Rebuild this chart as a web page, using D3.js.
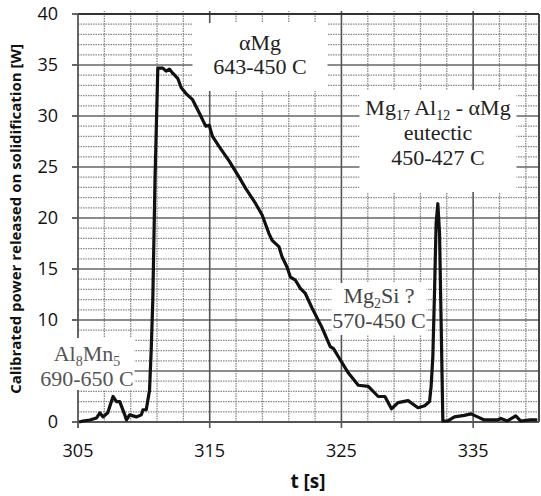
<!DOCTYPE html>
<html>
<head>
<meta charset="utf-8">
<script src="https://cdn.jsdelivr.net/npm/d3@7"></script>
<style>
  body { margin: 0; background: #fff; }
  svg { display: block; }
  .tick-label { font-family: "Open Sans", sans-serif; font-size: 18px; fill: #111; }
  .title { font-family: "Open Sans", sans-serif; font-weight: bold; fill: #111; }
  .note { font-family: "Liberation Serif", serif; font-size: 22px; fill: #333; }
</style>
</head>
<body>
<svg id="chart" width="541" height="496"></svg>
<script>
// time [s] and calibrated power [W]
const times = [305.08, 305.38, 305.9, 306.41, 306.66, 306.89, 307.26, 307.66, 307.92, 308.17,
  308.55, 308.68, 308.92, 309.43, 309.81, 309.93, 310.18, 310.43, 310.56, 310.68,
  310.85, 311.06, 311.44, 311.69, 311.94, 312.19, 312.57, 312.83, 313.2, 313.7,
  314.21, 314.58, 314.71, 314.96, 315.21, 315.72, 316.47, 317.23, 317.73, 318.49,
  318.98, 319.49, 319.74, 320.25, 320.49, 320.87, 321.13, 321.51, 321.88, 322.26,
  322.76, 323.51, 324.15, 324.4, 324.77, 325.53, 326.28, 327.04, 327.79, 328.3,
  328.8, 329.3, 330.06, 330.81, 331.32, 331.69, 331.81, 331.94, 332.07, 332.19,
  332.32, 332.45, 332.57, 332.7, 333.08, 333.58, 334.33, 334.83, 335.34, 335.84,
  336.85, 337.1, 337.6, 338.23, 338.6, 339.36, 339.87];
const power = [0.0, 0.1, 0.2, 0.4, 0.9, 0.5, 0.9, 2.5, 2.0, 2.0,
  0.7, 0.2, 0.7, 0.5, 0.7, 1.2, 1.2, 3.1, 7.1, 12,
  24, 34.7, 34.7, 34.4, 34.6, 34.2, 33.7, 32.8, 32.2, 31.6,
  30.3, 29.3, 29.0, 29.1, 28.0, 27.0, 25.6, 24.0, 22.9, 21.4,
  20.3, 18.5, 17.8, 17.2, 16.2, 15.2, 14.2, 13.9, 13.1, 12.6,
  11.2, 9.3, 7.4, 7.2, 6.4, 4.8, 3.6, 3.5, 2.5, 2.5,
  1.3, 1.9, 2.1, 1.4, 1.6, 2.0, 3.5, 6.4, 12.9, 19.5,
  21.4, 18.5, 9.7, 0.1, 0.1, 0.5, 0.65, 0.8, 0.5, 0.2,
  0.2, 0.35, 0.1, 0.6, 0.1, 0.2, 0.2];

const xTicks = [305, 315, 325, 335];
const yTicks = [0, 5, 10, 15, 20, 25, 30, 35, 40];
const yTickLabels = [0, 10, 15, 20, 25, 30, 35, 40]; // "5" sits under the Al8Mn5 note
const xMinorGrid = [307, 309, 311, 313, 317, 319, 321, 323, 327, 329, 331, 333, 337, 339];
const yMinorGrid = d3.range(1, 40).filter(v => v % 5 !== 0);

// text parts: plain string, or [string] for a subscript
const notes = [
  { x: 260, y: 23, w: 135, h: 68, lines: [["αMg"], ["643-450 C"]], base: [50, 74], color: "#222" },
  { x: 438, y: 90, w: 157, h: 102, lines: [["Mg", ["17"], " Al", ["12"], " - αMg"], ["eutectic"], ["450-427 C"]], base: [115, 140, 165], color: "#222" },
  { x: 379, y: 283, w: 95, h: 52, lines: [["Mg", ["2"], "Si ?"], ["570-450 C"]], base: [303, 328], color: "#444" },
  { x: 87, y: 338, w: 95, h: 52, lines: [["Al", ["8"], "Mn", ["5"]], ["690-650 C"]], base: [361, 386], color: "#555" }
];

const svg = d3.select("#chart");
const x = d3.scaleLinear().domain([305, 340]).range([78, 539]);
const y = d3.scaleLinear().domain([0, 40]).range([422, 14]);

// grid
const grid = svg.append("g");
grid.selectAll(".hminor").data(yMinorGrid).join("line")
  .attr("x1", x(305)).attr("x2", x(340))
  .attr("y1", d => y(d)).attr("y2", d => y(d))
  .attr("stroke", "#888").attr("stroke-width", 1.2).attr("stroke-dasharray", "1.5,1");
grid.selectAll(".vminor").data(xMinorGrid).join("line")
  .attr("x1", d => x(d)).attr("x2", d => x(d))
  .attr("y1", y(0)).attr("y2", y(40) - 3)
  .attr("stroke", "#888").attr("stroke-width", 1.3).attr("stroke-dasharray", "1.5,1");
grid.selectAll(".hmajor").data(yTicks.slice(1, -1)).join("line")
  .attr("x1", x(305)).attr("x2", x(340))
  .attr("y1", d => y(d)).attr("y2", d => y(d))
  .attr("stroke", "#666").attr("stroke-width", 1.6);
grid.selectAll(".vmajor").data(xTicks.slice(1)).join("line")
  .attr("x1", d => x(d)).attr("x2", d => x(d))
  .attr("y1", y(0) + 6).attr("y2", y(40) - 3)
  .attr("stroke", "#555").attr("stroke-width", 1.6);

// frame: top, right, bottom axis, left axis
svg.append("line").attr("x1", x(305)).attr("x2", x(340)).attr("y1", y(40)).attr("y2", y(40))
  .attr("stroke", "#333").attr("stroke-width", 1.8);
svg.append("line").attr("x1", x(340)).attr("x2", x(340)).attr("y1", y(40)).attr("y2", y(0))
  .attr("stroke", "#333").attr("stroke-width", 1.8);
svg.append("line").attr("x1", x(305)).attr("x2", x(340)).attr("y1", y(0)).attr("y2", y(0))
  .attr("stroke", "#555").attr("stroke-width", 1.8);
svg.append("line").attr("x1", x(305)).attr("x2", x(305)).attr("y1", y(40)).attr("y2", y(0) + 6)
  .attr("stroke", "#555").attr("stroke-width", 1.8);
svg.selectAll(".ytick").data(yTicks).join("line")
  .attr("x1", x(305) - 6).attr("x2", x(305))
  .attr("y1", d => y(d)).attr("y2", d => y(d))
  .attr("stroke", "#555").attr("stroke-width", 1.8);

// tick labels
svg.selectAll(".ylab").data(yTickLabels).join("text")
  .attr("class", "tick-label")
  .attr("x", x(305) - 20).attr("y", d => y(d))
  .attr("dy", "0.36em").attr("text-anchor", "end")
  .text(d => d);
svg.selectAll(".xlab").data(xTicks).join("text")
  .attr("class", "tick-label")
  .attr("x", d => x(d)).attr("y", 457)
  .attr("text-anchor", "middle")
  .text(d => d);

// axis titles
svg.append("text").attr("class", "title")
  .attr("transform", `translate(21,219) rotate(-90)`)
  .attr("text-anchor", "middle").style("font-size", "15px")
  .text("Calibrated power released on solidification [W]");
svg.append("text").attr("class", "title")
  .attr("x", 308).attr("y", 488).attr("text-anchor", "middle").style("font-size", "19px")
  .text("t [s]");

// annotation boxes
notes.forEach(n => {
  svg.append("rect").attr("x", n.x - n.w / 2).attr("y", n.y).attr("width", n.w).attr("height", n.h)
    .attr("fill", "#fff");
  n.lines.forEach((parts, j) => {
    const t = svg.append("text").attr("class", "note")
      .attr("x", n.x).attr("y", n.base[j])
      .attr("text-anchor", "middle").style("fill", n.color);
    let shifted = false;
    parts.forEach(p => {
      if (Array.isArray(p)) {
        t.append("tspan").attr("dy", shifted ? 0 : 5).style("font-size", "14px").text(p[0]);
        shifted = true;
      } else {
        t.append("tspan").attr("dy", shifted ? -5 : 0).text(p);
        shifted = false;
      }
    });
  });
});

// curve
const line = d3.line().x(d => x(d[0])).y(d => y(d[1]));
svg.append("path")
  .datum(times.map((t, i) => [t, power[i]]))
  .attr("d", line)
  .attr("fill", "none").attr("stroke", "#111").attr("stroke-width", 3.2)
  .attr("stroke-linejoin", "round");
</script>
</body>
</html>
